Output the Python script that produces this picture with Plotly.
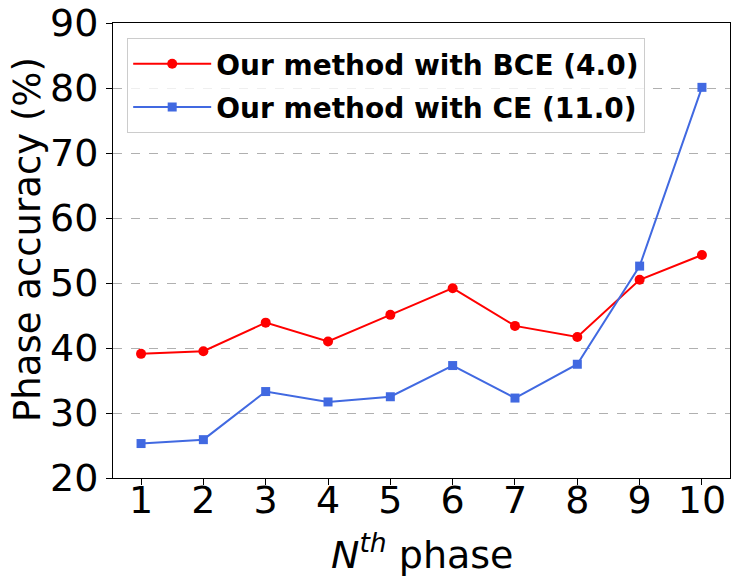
import plotly.graph_objects as go

phases = [1, 2, 3, 4, 5, 6, 7, 8, 9, 10]
bce_acc = [39.1, 39.5, 43.9, 41.0, 45.1, 49.2, 43.4, 41.7, 50.5, 54.3]
ce_acc = [25.3, 25.9, 33.3, 31.7, 32.5, 37.3, 32.3, 37.5, 52.6, 80.1]
bce_name = "Our method with BCE (4.0)"
ce_name = "Our method with CE (11.0)"
y_ticks = [20, 30, 40, 50, 60, 70, 80, 90]

FONT = "DejaVu Sans"

fig = go.Figure()
fig.add_trace(go.Scatter(
    x=phases, y=bce_acc, mode="lines+markers", name=bce_name, legendgroup="a",
    line=dict(color="#ff0000", width=2),
    marker=dict(symbol="circle", size=10, color="#ff0000"),
))
fig.add_trace(go.Scatter(
    x=phases, y=ce_acc, mode="lines+markers", name=ce_name, legendgroup="b",
    line=dict(color="#4169e1", width=2),
    marker=dict(symbol="square", size=9, color="#4169e1"),
))

fig.update_layout(
    width=746, height=588,
    margin=dict(l=105, r=24, t=15, b=118),
    paper_bgcolor="white", plot_bgcolor="white",
    font=dict(family=FONT, color="black"),
    showlegend=True,
    legend=dict(
        x=0.023, y=0.967, xanchor="left", yanchor="top",
        bgcolor="rgba(255,255,255,0.8)", bordercolor="#cccccc", borderwidth=1,
        font=dict(family=FONT, size=28, color="black", weight="bold"),
        itemwidth=78, tracegroupgap=4, traceorder="grouped",
    ),
    xaxis=dict(
        range=[0.55, 10.45], tickmode="array", tickvals=phases,
        ticktext=[str(p) for p in phases], automargin=False,
        ticklabeloverflow="allow", ticklabelstandoff=-18,
        ticks="outside", ticklen=6, tickwidth=1, tickcolor="black",
        showline=True, linecolor="black", linewidth=1, mirror=True,
        showgrid=False, zeroline=False,
        tickfont=dict(size=38, family=FONT),
    ),
    yaxis=dict(
        range=[20, 90], tickmode="array", tickvals=y_ticks, automargin=False,
        ticklabeloverflow="allow",
        ticks="outside", ticklen=6, tickwidth=1, tickcolor="black",
        showline=True, linecolor="black", linewidth=1, mirror=True,
        showgrid=True, gridcolor="#b0b0b0", griddash="dash", gridwidth=1,
        zeroline=False,
        tickfont=dict(size=38, family=FONT),
    ),
    annotations=[
        dict(
            text="<i>N</i><sup><i>th</i></sup> phase", xref="paper", yref="paper",
            x=0.5, y=0, xanchor="center", yanchor="top", yshift=-47, showarrow=False,
            font=dict(size=38, family=FONT, color="black"),
        ),
        dict(
            text="Phase accuracy (%)", xref="paper", yref="paper",
            x=0, y=0.5, xanchor="right", yanchor="middle", xshift=-62, yshift=11,
            textangle=-90, showarrow=False,
            font=dict(size=37, family=FONT, color="black"),
        ),
    ],
)

fig.write_html("out.html")
